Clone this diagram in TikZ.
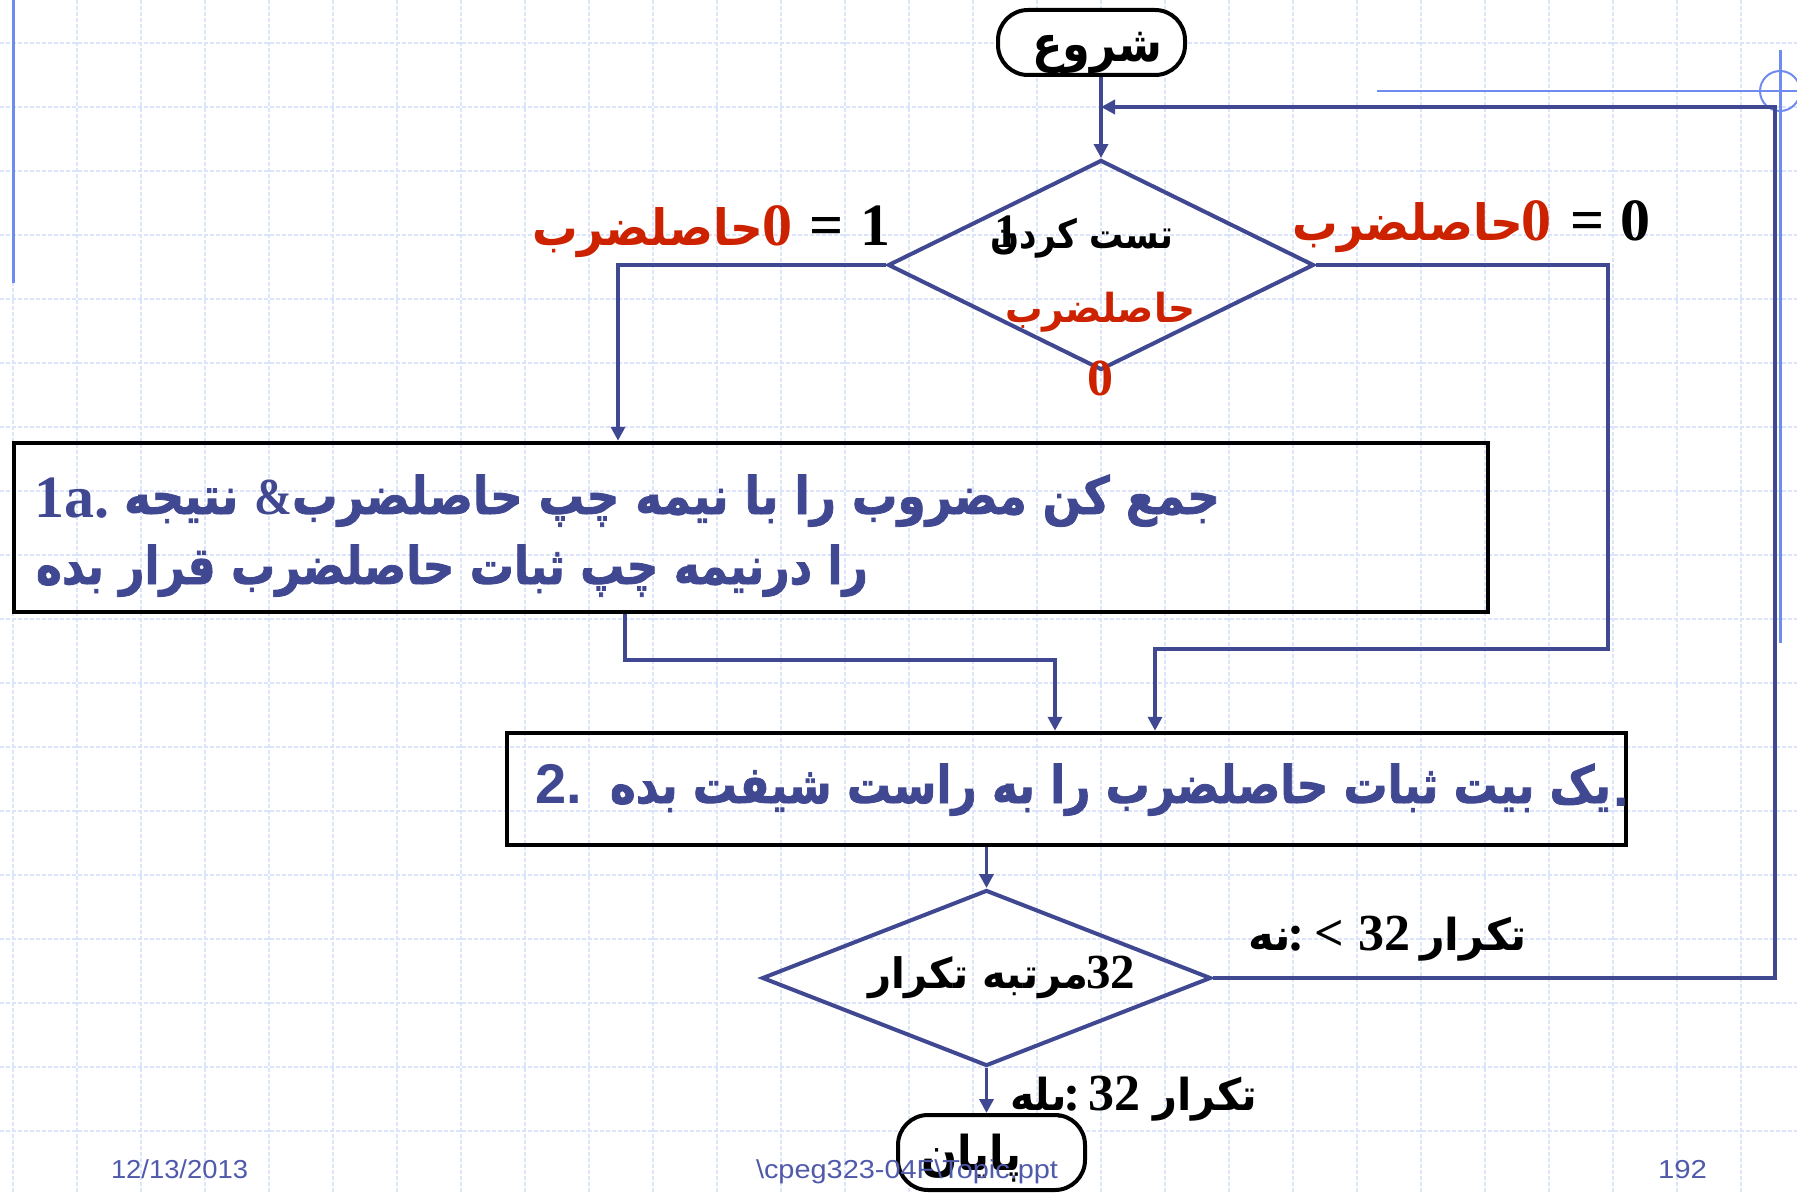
\documentclass[tikz,border=0pt]{standalone}
\usepackage{fontspec}
\usetikzlibrary{arrows.meta,shapes.geometric}
\TeXXeTstate=1
\newfontfamily\arfont[Script=Arabic]{DejaVu Sans}
\newfontfamily\arheavy[Script=Arabic,FakeBold=1.6]{DejaVu Sans Bold}
\newfontfamily\serifb{Liberation Serif}
\newfontfamily\sansf{Liberation Sans}
\definecolor{flowc}{RGB}{64,72,145}
\definecolor{redt}{RGB}{204,34,0}
\definecolor{gridc}{RGB}{220,228,251}
\definecolor{decoc}{RGB}{110,140,240}
\definecolor{footc}{RGB}{80,90,170}
\newsavebox\fitbx
\newlength\fitlen
\newcommand\fitw[2]{\sbox\fitbx{#2}\setlength\fitlen{\wd\fitbx}\pgfmathsetmacro\fitf{#1/\the\fitlen}\scalebox{\fitf}[1]{\usebox\fitbx}}
\newcommand\artxt[3]{\fitw{#1}{\arfont\bfseries\fontsize{#2}{#2}\selectfont\beginR #3\endR}}
\newcommand\arbig[3]{\fitw{#1}{\arheavy\fontsize{#2}{#2}\selectfont\beginR #3\endR}}
\newcommand\snum[2]{{\serifb\bfseries\fontsize{#1}{#1}\selectfont #2}}
\newcommand\ssans[2]{{\sansf\bfseries\fontsize{#1}{#1}\selectfont #2}}
\begin{document}
\begin{tikzpicture}[x=0.5pt,y=-0.5pt,
  txt/.style={inner sep=0pt,outer sep=0pt,anchor=base west},
  term/.style={draw=black,line width=2pt,fill=white,rounded corners=15pt,minimum width=93.5pt,inner sep=0pt},
  dec/.style={diamond,draw=flowc,line width=2pt,inner sep=0pt},
  procbox/.style={draw=black,line width=2.25pt,inner sep=0pt},
  flow/.style={draw=flowc,line width=1.8pt},
  arr/.style={-{Triangle[length=7pt,width=7pt]}},
  gridl/.style={draw=gridc,line width=1.2pt,dash pattern=on 2pt off 1pt},
  deco/.style={draw=decoc}]
\useasboundingbox[fill=white] (0,0) rectangle (1797,1193);
% grid
\foreach \k in {0,...,27} {\draw[gridl] ({13+64*\k},0) -- ({13+64*\k},1193);}
\foreach \k in {0,...,17} {\draw[gridl] (0,{43+64*\k}) -- (1797,{43+64*\k});}
% slide decorations
\draw[deco,line width=1.5pt] (13,0) -- (13,283);
\draw[deco,line width=1pt] (1377,91) -- (1797,91);
\draw[deco,line width=1pt] (1780,91) circle (10pt);
\draw[deco,line width=1.5pt] (1780,50) -- (1780,643);
% shapes
\node[term,minimum height=32.5pt] (start) at (1091.5,42.5) {};
\node[dec,minimum width=213pt,minimum height=105pt] (d1) at (1101,265) {};
\node[procbox,minimum width=737pt,minimum height=84.5pt] (box1) at (751,527.5) {};
\node[procbox,minimum width=559.5pt,minimum height=56pt] (box2) at (1066.5,789) {};
\node[dec,minimum width=224.5pt,minimum height=88pt] (d2) at (986.5,978) {};
\node[term,minimum height=37.5pt] (end) at (991.5,1152.5) {};
% connectors
\coordinate (lp) at (1775,107);
\coordinate (lb) at (618,260);
\coordinate (rb1) at (1608,649);
\coordinate (rb2) at (1155,649);
\coordinate (m1) at (625,660);
\coordinate (m2) at (1055,660);
\draw[flow,arr] (start.south -| d1.north) -- (d1.north);
\draw[flow,arr] (d2.east) -| (lp) -- (lp -| d1.north);
\draw[flow,arr] (d1.west) -| (lb |- box1.north);
\draw[flow,arr] (d1.east) -| (rb1) -- (rb2) -- (rb2 |- box2.north);
\draw[flow,arr] (m1 |- box1.south) -- (m1) -- (m2) -- (m2 |- box2.north);
\draw[flow,arr] (box2.south -| d2.north) -- (d2.north);
\draw[flow,arr] (d2.south) -- (d2.south |- end.north);
% texts
\node[txt] (tstart) at (1032,62) {\artxt{65pt}{25pt}{شروع}};
\node[txt] (tend) at (921,1170) {\artxt{50pt}{24pt}{پایان}};
\node[txt] (tt1) at (990,248) {\artxt{91.5pt}{20pt}{تست کردن}};
\node[txt] (tt1b) at (994,247) {\snum{24pt}{1}};
\node[txt,text=redt] (tt2) at (1005,322) {\artxt{95pt}{20pt}{حاصلضرب}};
\node[inner sep=0pt,anchor=base,text=redt] (tt3) at (1100,395) {\snum{26pt}{0}};
% branch labels
\node[txt,text=redt] (lblL) at (532,245) {\artxt{115.5pt}{25pt}{حاصلضرب}};
\node[txt,text=redt] (lblL0) at (762,245) {\snum{30pt}{0}};
\node[txt] (lblLeq) at (809,245) {\snum{30pt}{=}};
\node[txt] (lblL1) at (860,245) {\snum{30pt}{1}};
\node[txt,text=redt] (lblR) at (1292,240) {\artxt{115.5pt}{25pt}{حاصلضرب}};
\node[txt,text=redt] (lblR0) at (1521,240) {\snum{30pt}{0}};
\node[txt] (lblReq) at (1570,240) {\snum{30pt}{=}};
\node[txt] (lblR1) at (1620,240) {\snum{30pt}{0}};
% box 1
\node[txt,text=flowc] (b1n) at (34,517) {\snum{30pt}{1a.}};
\node[txt,text=flowc] (b1l1) at (124,514) {\arbig{548pt}{26pt}{جمع کن مضروب را با نیمه چپ حاصلضرب{\serifb\bfseries\&} نتیجه}};
\node[txt,text=flowc] (b1l2) at (36,584) {\arbig{416pt}{26pt}{را درنیمه چپ ثبات حاصلضرب قرار بده}};
% box 2
\node[txt,text=flowc] (b2n) at (535,803) {\ssans{28pt}{2.}};
\node[txt,text=flowc] (b2l) at (610,803) {\arbig{500.5pt}{26pt}{یک بیت ثبات حاصلضرب را به راست شیفت بده}};
\node[txt,text=flowc] (b2d) at (1613,806) {\ssans{28pt}{.}};
% diamond 2
\node[txt] (d2a) at (868,988) {\artxt{110pt}{21pt}{مرتبه تکرار}};
\node[txt] (d2b) at (1086,988) {\snum{24.5pt}{32}};
% loop labels
\node[txt] (noa) at (1248,950) {\artxt{21.5pt}{22pt}{نه}};
\node[txt] (nob) at (1287,950) {\snum{26pt}{:}};
\node[txt] (noc) at (1314,950) {\snum{26pt}{<}};
\node[txt] (nod) at (1358,950) {\snum{26pt}{32}};
\node[txt] (noe) at (1420,950) {\artxt{53.5pt}{22pt}{تکرار}};
\node[txt] (yesa) at (1010,1110) {\artxt{28.5pt}{22pt}{بله}};
\node[txt] (yesb) at (1063,1110) {\snum{26pt}{:}};
\node[txt] (yesc) at (1088,1110) {\snum{26pt}{32}};
\node[txt] (yesd) at (1153,1110) {\artxt{52pt}{22pt}{تکرار}};
% footer
\node[txt,text=footc] (fdate) at (111,1178) {\fitw{68.5pt}{\sansf\fontsize{13pt}{13pt}\selectfont 12/13/2013}};
\node[txt,text=footc] (fpath) at (756,1178) {\fitw{151pt}{\sansf\fontsize{13pt}{13pt}\selectfont \textbackslash cpeg323-04F\textbackslash Topic.ppt}};
\node[txt,text=footc] (fnum) at (1658,1178) {\fitw{24.5pt}{\sansf\fontsize{13pt}{13pt}\selectfont 192}};
\end{tikzpicture}
\end{document}
